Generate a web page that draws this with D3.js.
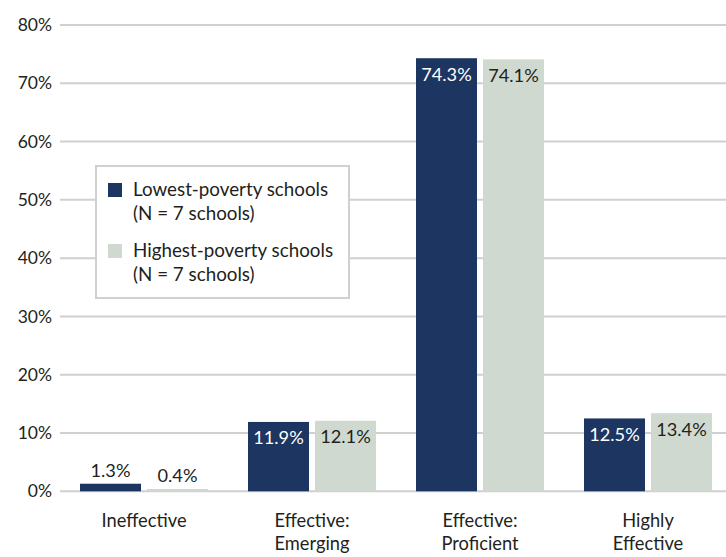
<!DOCTYPE html>
<html>
<head>
<meta charset="utf-8">
<script src="https://cdn.jsdelivr.net/npm/d3@7"></script>
<style>
  html, body { margin: 0; padding: 0; background: #fff; }
  svg { display: block; font-family: "Lato", "Noto Sans", sans-serif; }
</style>
</head>
<body>
<svg id="chart" width="726" height="557"></svg>
<script>
const categories = [["Ineffective"], ["Effective:", "Emerging"], ["Effective:", "Proficient"], ["Highly", "Effective"]];
const seriesNames = ["Lowest-poverty schools", "Highest-poverty schools"];
const seriesSub = ["(N = 7 schools)", "(N = 7 schools)"];
const lowest = [1.3, 11.9, 74.3, 12.5];
const highest = [0.4, 12.1, 74.1, 13.4];
const yTicks = [0, 10, 20, 30, 40, 50, 60, 70, 80];

const colors = ["#1d3561", "#cfd9cf"];
const textColor = "#231f20";

const svg = d3.select("#chart");
const W = 726;
const catKeys = categories.map((c, i) => i);

const y = d3.scaleLinear().domain([0, 80]).range([491.3, 25]);
const x0 = d3.scaleBand().domain(catKeys).range([60, 732]).padding(0);
const x1 = d3.scaleBand().domain([0, 1]).range([20, 148]).paddingInner(6 / 67).paddingOuter(0);

// grid
const grid = svg.append("g");
grid.selectAll("line").data(yTicks).join("line")
  .attr("x1", 60).attr("x2", W)
  .attr("y1", d => y(d)).attr("y2", d => y(d))
  .attr("stroke", "#d0d0d0").attr("stroke-width", 2);

// y axis labels
const yAxis = d3.axisLeft(y).tickValues(yTicks).tickFormat(d => d + "%").tickSize(0).tickPadding(0);
const ya = svg.append("g").attr("transform", "translate(52,0)").call(yAxis);
ya.select(".domain").remove();
ya.selectAll("text").attr("font-size", 17.5).attr("fill", textColor).attr("font-family", "Lato");

// legend
const lg = svg.append("g");
lg.append("rect").attr("x", 96).attr("y", 166).attr("width", 253).attr("height", 132)
  .attr("fill", "#fff").attr("stroke", "#d0d0d0").attr("stroke-width", 2);
seriesNames.forEach((name, i) => {
  const oy = i * 61;
  lg.append("rect").attr("x", 108).attr("y", 183 + oy).attr("width", 14).attr("height", 14).attr("fill", colors[i]);
  lg.append("text").attr("x", 133).attr("y", 196 + oy).attr("font-size", 18.8).attr("fill", textColor).text(name);
  lg.append("text").attr("x", 133).attr("y", 220 + oy).attr("font-size", 18.8).attr("fill", textColor).text(seriesSub[i]);
});

// bars
const data = catKeys.map(i => ({ i, vals: [lowest[i], highest[i]] }));
const groups = svg.append("g").selectAll("g").data(data).join("g")
  .attr("transform", d => `translate(${x0(d.i)},0)`);

groups.selectAll("rect").data(d => d.vals.map((v, s) => ({ v, s }))).join("rect")
  .attr("x", d => x1(d.s))
  .attr("width", x1.bandwidth())
  .attr("y", d => y(d.v))
  .attr("height", d => y(0) - y(d.v))
  .attr("fill", d => colors[d.s]);

groups.selectAll("text.val").data(d => d.vals.map((v, s) => ({ v, s }))).join("text")
  .attr("class", "val")
  .attr("x", d => x1(d.s) + x1.bandwidth() / 2)
  .attr("y", d => (y(0) - y(d.v) > 30) ? y(d.v) + 22.5 : y(d.v) - 6.5)
  .attr("text-anchor", "middle")
  .attr("font-size", 18.2)
  .attr("fill", d => (y(0) - y(d.v) > 30 && d.s === 0) ? "#ffffff" : textColor)
  .text(d => d.v.toFixed(1) + "%");

// category labels
const cl = svg.append("g");
catKeys.forEach(i => {
  const t = cl.append("text").attr("text-anchor", "middle").attr("font-size", 18.3).attr("fill", textColor)
    .attr("x", x0(i) + x0.bandwidth() / 2).attr("y", 527);
  categories[i].forEach((line, k) => {
    t.append("tspan").attr("x", x0(i) + x0.bandwidth() / 2).attr("dy", k === 0 ? 0 : 23).text(line);
  });
});
</script>
</body>
</html>
